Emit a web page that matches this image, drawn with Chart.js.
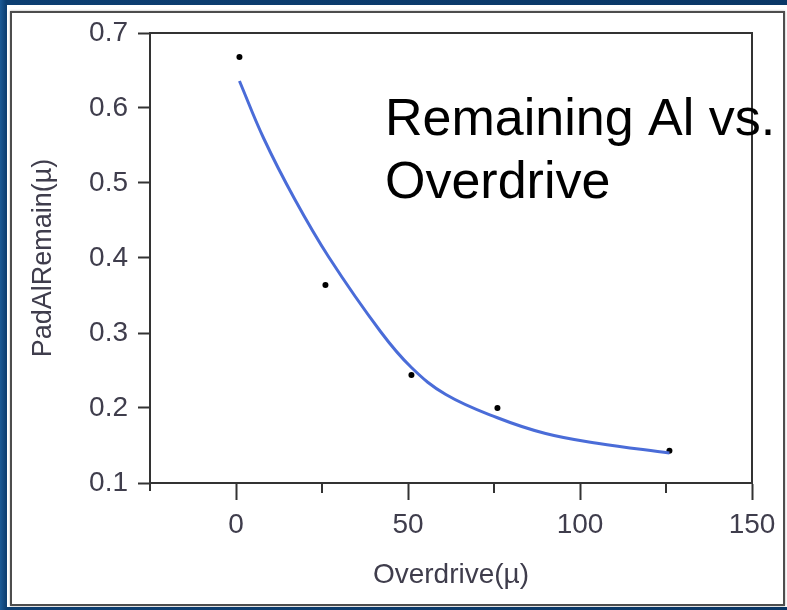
<!DOCTYPE html>
<html>
<head>
<meta charset="utf-8">
<script src="https://cdn.jsdelivr.net/npm/chart.js@4"></script>
<style>
  html, body { margin: 0; padding: 0; }
  body { width: 787px; height: 610px; overflow: hidden; position: relative;
         background: linear-gradient(to right, #1b5a96 0px, #0d3f72 6px, #0a3766 100%); }
  #panel { position: absolute; left: 7px; top: 5px; width: 780px; height: 602px; background: #fff; }
  #frame { position: absolute; left: 10px; top: 11px; width: 771px; height: 591px;
           border: 2px solid #4d4d4d; box-shadow: 0 0 2px rgba(0,0,0,0.35); }
  #wrap { position: absolute; left: 0; top: 0; width: 787px; height: 610px; }
</style>
</head>
<body>
<div id="panel"></div>
<div id="frame"></div>
<div id="wrap"><canvas id="fitChart" width="787" height="610"></canvas></div>
<script>
// measured points
const overdrive = [1, 26, 51, 76, 126];
const alRemain = [0.668, 0.364, 0.244, 0.200, 0.143];

// fitted curve
const fitX = [1, 8, 17, 27, 42, 51, 61, 76, 90, 105, 126];
const fitY = [0.636, 0.560, 0.479, 0.401, 0.302, 0.254, 0.218, 0.187, 0.166, 0.153, 0.140];

const xMajorTicks = [0, 50, 100, 150];
const xMinorTicks = [25, 75, 125];
const yTicks = [0.1, 0.2, 0.3, 0.4, 0.5, 0.6, 0.7];

const titleLines = ['Remaining Al vs.', 'Overdrive'];
const xTitle = 'Overdrive(µ)';
const yTitle = 'PadAlRemain(µ)';

const axisColor = '#333333';
const labelColor = '#3f3d4c';

// cadre du graphique + petites graduations + titre
Chart.register({
    id: 'plotExtras',
    afterDraw: function(chart) {
        const { ctx, chartArea } = chart;
        const xs = chart.scales.x;
        ctx.save();
        ctx.strokeStyle = axisColor;
        ctx.lineWidth = 2;
        ctx.strokeRect(chartArea.left, chartArea.top, chartArea.right - chartArea.left, chartArea.bottom - chartArea.top);
        // petit bout de l'axe y sous l'axe x
        ctx.beginPath();
        ctx.moveTo(chartArea.left, chartArea.bottom);
        ctx.lineTo(chartArea.left, chartArea.bottom + 8);
        ctx.stroke();
        xMinorTicks.forEach(v => {
            const px = xs.getPixelForValue(v);
            ctx.beginPath();
            ctx.moveTo(px, chartArea.bottom);
            ctx.lineTo(px, chartArea.bottom + 10);
            ctx.stroke();
        });
        ctx.fillStyle = '#000000';
        ctx.font = '52px "Liberation Sans", Arial, sans-serif';
        ctx.textBaseline = 'alphabetic';
        ctx.fillText(titleLines[0], 385, 135);
        ctx.fillText(titleLines[1], 385, 198);
        ctx.restore();
    }
});

const ctxFit = document.getElementById('fitChart').getContext('2d');
const fitChart = new Chart(ctxFit, {
    type: 'scatter',
    data: {
        datasets: [{
            label: 'fit',
            data: fitX.map((x, i) => ({ x: x, y: fitY[i] })),
            showLine: true,
            borderColor: '#4a6cd8',
            borderWidth: 3,
            pointRadius: 0,
            tension: 0.4
        }, {
            label: 'data',
            data: overdrive.map((x, i) => ({ x: x, y: alRemain[i] })),
            backgroundColor: '#000000',
            borderColor: '#000000',
            pointRadius: 3,
            borderWidth: 0
        }]
    },
    options: {
        responsive: false,
        animation: false,
        layout: { padding: { top: 33, right: 35, left: 0, bottom: 0 } },
        plugins: {
            legend: { display: false },
            tooltip: { enabled: false }
        },
        scales: {
            x: {
                type: 'linear',
                min: -25,
                max: 150,
                afterFit: function(scale) { scale.height = 127; },
                afterBuildTicks: function(scale) { scale.ticks = xMajorTicks.map(v => ({ value: v })); },
                grid: { drawOnChartArea: false, drawTicks: true, tickLength: 17, tickColor: axisColor, tickWidth: 2 },
                border: { display: true, color: axisColor, width: 2 },
                ticks: {
                    color: labelColor,
                    font: { family: '"Liberation Sans", Arial, sans-serif', size: 28 },
                    padding: 8,
                    maxRotation: 0,
                    autoSkip: false
                },
                title: {
                    display: true,
                    text: xTitle,
                    color: labelColor,
                    font: { family: '"Liberation Sans", Arial, sans-serif', size: 28 },
                    padding: { top: 0, bottom: 18 }
                }
            },
            y: {
                type: 'linear',
                min: 0.1,
                max: 0.7,
                afterFit: function(scale) { scale.width = 150; },
                afterBuildTicks: function(scale) { scale.ticks = yTicks.map(v => ({ value: v })); },
                grid: { drawOnChartArea: false, drawTicks: true, tickLength: 12, tickColor: axisColor, tickWidth: 2 },
                border: { display: true, color: axisColor, width: 2 },
                ticks: {
                    color: labelColor,
                    font: { family: '"Liberation Sans", Arial, sans-serif', size: 28 },
                    padding: 10,
                    autoSkip: false,
                    callback: function(v) { return v.toFixed(1); }
                },
                title: {
                    display: true,
                    text: yTitle,
                    color: labelColor,
                    font: { family: '"Liberation Sans", Arial, sans-serif', size: 27 },
                    padding: { top: 27, bottom: 0 }
                }
            }
        }
    }
});
</script>
</body>
</html>
